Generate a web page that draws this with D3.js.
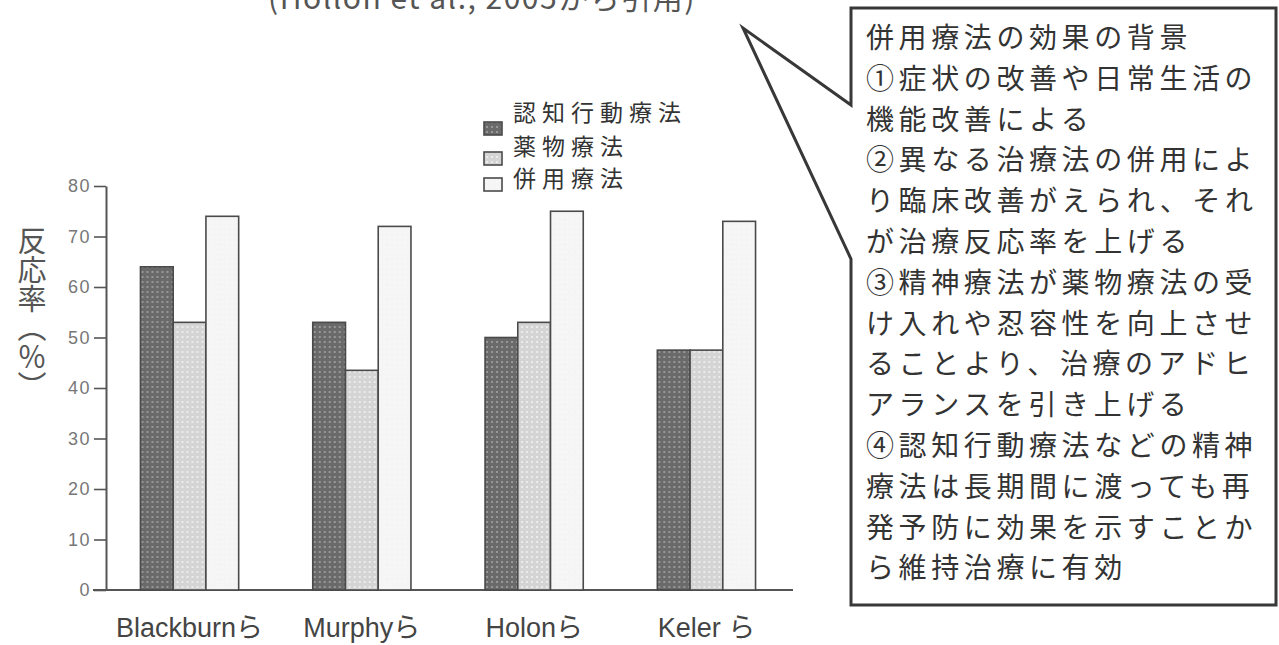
<!DOCTYPE html>
<html>
<head>
<meta charset="utf-8">
<script src="https://cdn.jsdelivr.net/npm/d3@7"></script>
<style>
  body { margin: 0; background: #fff; }
  svg { display: block; }
</style>
</head>
<body>
<script>
// Response rates (%) by study and treatment arm
const studies = ["Blackburnら", "Murphyら", "Holonら", "Keler ら"];
const series = ["認知行動療法", "薬物療法", "併用療法"];
const cbtRates = [64, 53, 50, 47.5];
const drugRates = [53, 43.5, 53, 47.5];
const comboRates = [74, 72, 75, 73];
const yTicks = [0, 10, 20, 30, 40, 50, 60, 70, 80];
const yLabel = "反応率（％）";
const sourceNote = "(Hollon et al., 2005から引用)";
const noteLines = [
  "併用療法の効果の背景",
  "①症状の改善や日常生活の",
  "機能改善による",
  "②異なる治療法の併用によ",
  "り臨床改善がえられ、それ",
  "が治療反応率を上げる",
  "③精神療法が薬物療法の受",
  "け入れや忍容性を向上させ",
  "ることより、治療のアドヒ",
  "アランスを引き上げる",
  "④認知行動療法などの精神",
  "療法は長期間に渡っても再",
  "発予防に効果を示すことか",
  "ら維持治療に有効"
];

const rows = studies.map((s, i) => ({
  study: s,
  values: [cbtRates[i], drugRates[i], comboRates[i]]
}));

const W = 1279, H = 645;
const svg = d3.select("body").append("svg").attr("width", W).attr("height", H);

// Fill patterns: dark grid, light grid, near-white
const defs = svg.append("defs");
function gridPattern(id, base, dot) {
  const p = defs.append("pattern").attr("id", id)
    .attr("patternUnits", "userSpaceOnUse").attr("width", 5).attr("height", 5);
  p.append("rect").attr("width", 5).attr("height", 5).attr("fill", base);
  p.append("rect").attr("x", 1).attr("y", 1).attr("width", 2).attr("height", 2).attr("fill", dot);
}
gridPattern("p-dark", "#6a6a6a", "#979797");
gridPattern("p-light", "#d4d4d4", "#ebebeb");
gridPattern("p-white", "#f5f5f5", "#f8f8f8");
const fills = ["url(#p-dark)", "url(#p-light)", "url(#p-white)"];

// Scales
const axisX = 106;
const x = d3.scaleBand().domain(studies).range([axisX, 790])
  .paddingInner(0.43).paddingOuter(0.2);
const xs = d3.scaleBand().domain(series).range([0, x.bandwidth()]);
const y = d3.scaleLinear().domain([0, 80]).range([590, 186]);

// Y axis
const yAxis = svg.append("g").attr("transform", `translate(${axisX},0)`)
  .call(d3.axisLeft(y).tickValues(yTicks).tickSize(12).tickSizeOuter(0).tickPadding(3));
yAxis.select(".domain").attr("stroke", "#555").attr("stroke-width", 2);
yAxis.selectAll(".tick line").attr("stroke", "#555").attr("stroke-width", 1.6);
yAxis.selectAll(".tick text")
  .attr("fill", "#777").style("font-family", "Liberation Sans, Arial, sans-serif")
  .style("font-size", "18px").style("letter-spacing", "1.5px");

// Baseline
svg.append("line")
  .attr("x1", axisX - 13).attr("x2", x.range()[1] + 3)
  .attr("y1", y(0)).attr("y2", y(0))
  .attr("stroke", "#555").attr("stroke-width", 2);

// Bars
const groups = svg.append("g").selectAll("g").data(rows).join("g")
  .attr("transform", d => `translate(${x(d.study)},0)`);
groups.selectAll("rect")
  .data(d => d.values.map((v, k) => ({ name: series[k], v, k })))
  .join("rect")
  .attr("x", d => xs(d.name))
  .attr("width", xs.bandwidth())
  .attr("y", d => y(d.v))
  .attr("height", d => y(0) - y(d.v))
  .attr("fill", d => fills[d.k])
  .attr("stroke", "#4a4a4a")
  .attr("stroke-width", 1.6);

// X labels
const xAxis = svg.append("g").attr("transform", `translate(0,${y(0)})`)
  .call(d3.axisBottom(x).tickSize(0).tickPadding(28));
xAxis.select(".domain").remove();
xAxis.selectAll(".tick text")
  .attr("fill", "#444")
  .style("font-family", "Liberation Sans, Arial, 'Noto Sans CJK JP', sans-serif")
  .style("font-size", "27px");

// Y label, vertical
svg.append("text")
  .attr("x", 32).attr("y", 313)
  .attr("text-anchor", "middle")
  .style("writing-mode", "vertical-rl")
  .style("font-family", "'Noto Sans CJK JP', sans-serif")
  .style("font-size", "29px")
  .attr("fill", "#555")
  .text(yLabel);

// Legend
const legend = svg.append("g");
const legTextY = [111, 145, 177];
const legSwatchY = [122, 152, 178];
series.forEach((s, k) => {
  legend.append("rect")
    .attr("x", 484).attr("y", legSwatchY[k]).attr("width", 18).attr("height", 13)
    .attr("fill", fills[k]).attr("stroke", "#4a4a4a").attr("stroke-width", 1.6);
  legend.append("text")
    .attr("x", 513).attr("y", legTextY[k])
    .attr("dominant-baseline", "central")
    .style("font-family", "'Noto Sans CJK JP', sans-serif")
    .style("font-size", "23px").style("letter-spacing", "6px")
    .attr("fill", "#333")
    .text(s);
});

// Source note, partly cut at the top edge
svg.append("text")
  .attr("x", 268).attr("y", 9)
  .style("font-family", "'Noto Sans CJK JP', sans-serif")
  .style("font-size", "30px").style("letter-spacing", "1.5px")
  .attr("fill", "#555")
  .text(sourceNote);

// Speech-bubble callout
const bx0 = 851, by0 = 8, bx1 = 1276, by1 = 605;
const bubble = d3.path();
bubble.moveTo(bx0, by0);
bubble.lineTo(bx1, by0);
bubble.lineTo(bx1, by1);
bubble.lineTo(bx0, by1);
bubble.lineTo(bx0, 259);
bubble.lineTo(743, 28);
bubble.lineTo(bx0, 105);
bubble.closePath();
svg.append("path").attr("d", bubble.toString())
  .attr("fill", "#fff").attr("stroke", "#383838").attr("stroke-width", 3)
  .attr("stroke-linejoin", "miter");

svg.append("g").selectAll("text").data(noteLines).join("text")
  .attr("x", 866)
  .attr("y", (d, i) => 36 + i * 40.8)
  .attr("dominant-baseline", "central")
  .style("font-family", "'Noto Sans CJK JP', sans-serif")
  .style("font-size", "28px").style("letter-spacing", "4.6px")
  .attr("fill", "#333")
  .text(d => d);
</script>
</body>
</html>
